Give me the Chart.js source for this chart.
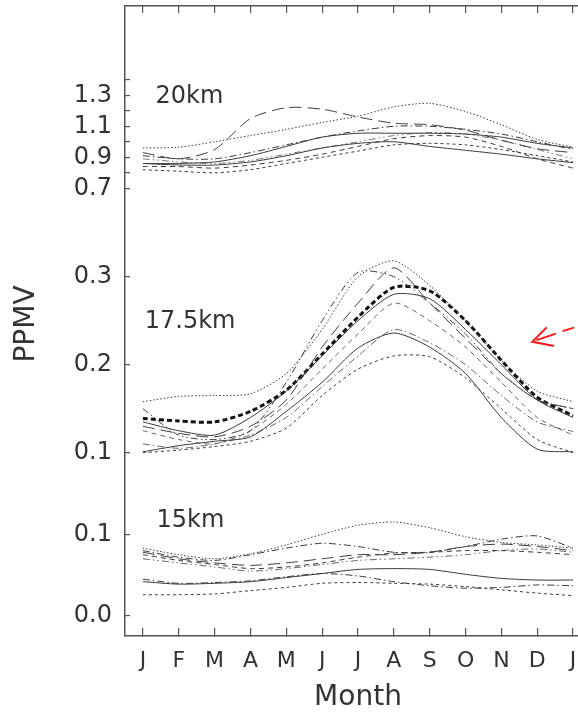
<!DOCTYPE html>
<html>
<head>
<meta charset="utf-8">
<script src="https://cdn.jsdelivr.net/npm/chart.js@4"></script>
<style>
  html, body { margin: 0; padding: 0; background: #fff; overflow: hidden; }
  #wrap { width: 578px; height: 715px; overflow: hidden; }
</style>
</head>
<body>
<div id="wrap"><canvas id="ppmv-chart" width="591" height="715"></canvas></div>
<script>
const MONTHS = ['J', 'F', 'M', 'A', 'M', 'J', 'J', 'A', 'S', 'O', 'N', 'D', 'J'];
const MONTH_NO = [1, 2, 3, 4, 5, 6, 7, 8, 9, 10, 11, 12, 13];

// 20 km
const km20Dotted   = [0.96, 0.965, 1.0, 1.04, 1.08, 1.125, 1.165, 1.225, 1.248, 1.195, 1.11, 1.015, 0.965];
const km20Long     = [0.93, 0.89, 0.95, 1.15, 1.22, 1.21, 1.16, 1.12, 1.11, 1.075, 1.01, 0.955, 0.93];
const km20DashDot  = [0.91, 0.89, 0.89, 0.93, 0.98, 1.03, 1.07, 1.10, 1.10, 1.08, 1.05, 1.0, 0.95];
const km20SolidA   = [0.86, 0.86, 0.87, 0.91, 0.97, 1.03, 1.055, 1.055, 1.055, 1.05, 1.03, 0.99, 0.96];
const km20SolidB   = [0.86, 0.85, 0.85, 0.87, 0.91, 0.96, 0.99, 1.0, 0.97, 0.945, 0.92, 0.89, 0.865];
const km20Short    = [0.82, 0.81, 0.80, 0.82, 0.86, 0.90, 0.94, 0.98, 0.99, 0.98, 0.95, 0.91, 0.87];
const km20Dashed   = [0.84, 0.84, 0.83, 0.85, 0.88, 0.92, 0.97, 1.02, 1.04, 1.03, 0.97, 0.89, 0.83];
const km20DashDot3 = [0.89, 0.87, 0.86, 0.88, 0.92, 0.96, 1.0, 1.04, 1.06, 1.05, 1.01, 0.95, 0.89];

// 17.5 km
const km175Mean     = [0.139, 0.136, 0.135, 0.147, 0.171, 0.212, 0.254, 0.288, 0.284, 0.25, 0.205, 0.163, 0.142];
const km175Dotted   = [0.158, 0.164, 0.165, 0.167, 0.19, 0.24, 0.30, 0.318, 0.29, 0.25, 0.205, 0.17, 0.158];
const km175DashDot3 = [0.15, 0.12, 0.115, 0.125, 0.18, 0.25, 0.305, 0.30, 0.27, 0.235, 0.19, 0.16, 0.15];
const km175Long     = [0.13, 0.122, 0.118, 0.13, 0.16, 0.22, 0.27, 0.31, 0.27, 0.23, 0.19, 0.16, 0.15];
const km175SolidA   = [0.135, 0.125, 0.12, 0.14, 0.17, 0.21, 0.25, 0.28, 0.275, 0.24, 0.2, 0.16, 0.14];
const km175Dashed   = [0.125, 0.115, 0.11, 0.125, 0.155, 0.195, 0.235, 0.27, 0.25, 0.22, 0.18, 0.14, 0.12];
const km175SolidB   = [0.101, 0.108, 0.113, 0.118, 0.147, 0.18, 0.219, 0.236, 0.22, 0.19, 0.14, 0.104, 0.101];
const km175Short    = [0.1, 0.103, 0.107, 0.113, 0.128, 0.165, 0.195, 0.21, 0.209, 0.185, 0.15, 0.115, 0.1];
const km175DashDot  = [0.11, 0.105, 0.11, 0.12, 0.14, 0.175, 0.21, 0.24, 0.225, 0.2, 0.165, 0.135, 0.124];

// 15 km
const km15Dotted   = [0.083, 0.075, 0.07, 0.076, 0.087, 0.1, 0.111, 0.115, 0.108, 0.097, 0.09, 0.087, 0.083];
const km15DashDot  = [0.08, 0.072, 0.068, 0.075, 0.083, 0.089, 0.085, 0.078, 0.078, 0.085, 0.094, 0.098, 0.083];
const km15Long     = [0.078, 0.07, 0.065, 0.062, 0.065, 0.07, 0.075, 0.075, 0.078, 0.085, 0.088, 0.085, 0.08];
const km15Dashed   = [0.075, 0.068, 0.063, 0.058, 0.06, 0.065, 0.072, 0.077, 0.078, 0.08, 0.08, 0.078, 0.075];
const km15DashDot3 = [0.07, 0.065, 0.06, 0.055, 0.058, 0.063, 0.068, 0.07, 0.072, 0.075, 0.08, 0.082, 0.078];
const km15Solid    = [0.042, 0.039, 0.04, 0.042, 0.047, 0.052, 0.057, 0.058, 0.057, 0.051, 0.046, 0.044, 0.044];
const km15DashDotB = [0.045, 0.04, 0.041, 0.043, 0.048, 0.052, 0.049, 0.042, 0.037, 0.034, 0.035, 0.038, 0.037];
const km15Short    = [0.026, 0.026, 0.027, 0.031, 0.035, 0.04, 0.041, 0.04, 0.039, 0.036, 0.032, 0.028, 0.025];

// tick values and which of them carry a label
const ticks20 = [0.7, 0.8, 0.9, 1.0, 1.1, 1.2, 1.3, 1.4];
const labels20 = [0.7, 0.9, 1.1, 1.3];
const ticks175 = [0.1, 0.2, 0.3];
const ticks15 = [0.0, 0.1];

const PANEL_NAMES = ['20km', '17.5km', '15km'];

// line styles
const SOLID = [];
const DOTTED = [1.5, 2];
const DASHED = [5, 4];
const SHORT = [3, 3];
const LONG = [12, 6];
const DASHDOT = [7, 3, 1.5, 3];
const DASHDOT3 = [7, 3, 1.5, 3, 1.5, 3];

const INK = '#333';
const AXIS = '#555';

function series(values, axis, dash, width, color) {
    return {
        data: values.map((v, i) => ({ x: MONTH_NO[i], y: v })),
        yAxisID: axis,
        borderDash: dash,
        borderWidth: width || 1,
        borderColor: color || '#3a3a3a',
        pointRadius: 0,
        tension: 0.25,
        fill: false
    };
}

function yAxis(min, max, tickList, labelList, weight, stackWeight, title) {
    return {
        type: 'linear',
        position: 'left',
        stack: 'ppmv',
        stackWeight: stackWeight,
        weight: weight,
        min: min,
        max: max,
        afterBuildTicks: axis => { axis.ticks = tickList.map(v => ({ value: v })); },
        afterFit: axis => {
            axis.width = 125;
            axis.paddingTop = 0;
            axis.paddingBottom = 0;
        },
        ticks: {
            autoSkip: false,
            padding: 18,
            color: INK,
            font: { size: 24 },
            callback: value => labelList.includes(value) ? value.toFixed(1) : ''
        },
        grid: { drawOnChartArea: false, tickLength: -5, color: AXIS, lineWidth: 1.2 },
        border: { color: AXIS, width: 1.5 },
        title: title ? {
            display: true,
            text: title,
            color: INK,
            font: { size: 28 },
            padding: { top: 10, bottom: 0 }
        } : { display: false }
    };
}

function monthAxis(position, height, tickLength, showLabels) {
    return {
        type: 'linear',
        position: position,
        min: 0.5,
        max: 13.5,
        afterBuildTicks: axis => { axis.ticks = MONTH_NO.map(v => ({ value: v })); },
        afterFit: axis => {
            axis.height = height;
            axis.paddingLeft = 0;
            axis.paddingRight = 0;
        },
        ticks: {
            display: showLabels,
            autoSkip: false,
            maxRotation: 0,
            padding: 20,
            color: INK,
            font: { size: 22 },
            callback: (value, index) => MONTHS[index]
        },
        grid: { drawOnChartArea: false, tickLength: tickLength, color: AXIS, lineWidth: 1.2 },
        border: { color: AXIS, width: 1.5 },
        title: {
            display: showLabels,
            text: 'Month',
            color: INK,
            font: { size: 28 },
            padding: { top: 0, bottom: 0 }
        }
    };
}

// panel names and the red arrow
const annotations = {
    id: 'annotations',
    afterDatasetsDraw(chart) {
        const ctx = chart.ctx;
        const x = chart.scales.x;
        const spots = [
            { axis: 'y20', mx: 1.35, v: 1.289 },
            { axis: 'y175', mx: 1.05, v: 0.2485 },
            { axis: 'y15', mx: 1.38, v: 0.1163 }
        ];
        ctx.save();
        ctx.font = '24px "DejaVu Sans"';
        ctx.fillStyle = INK;
        ctx.textAlign = 'left';
        ctx.textBaseline = 'middle';
        spots.forEach((s, i) => {
            ctx.fillText(PANEL_NAMES[i], x.getPixelForValue(s.mx), chart.scales[s.axis].getPixelForValue(s.v));
        });

        const tx = x.getPixelForValue(11.86);
        const ty = chart.scales.y175.getPixelForValue(0.226);
        ctx.strokeStyle = '#ff1a1a';
        ctx.lineWidth = 2;
        ctx.lineCap = 'round';
        ctx.beginPath();
        ctx.moveTo(tx + 14, ty - 14);
        ctx.lineTo(tx, ty);
        ctx.lineTo(tx + 21, ty + 4);
        ctx.moveTo(tx + 5, ty - 2);
        ctx.lineTo(tx + 23, ty - 8);
        ctx.moveTo(tx + 31, ty - 11);
        ctx.lineTo(tx + 41, ty - 14);
        ctx.stroke();
        ctx.restore();
    }
};

Chart.defaults.font.family = '"DejaVu Sans", sans-serif';
Chart.defaults.color = INK;

new Chart(document.getElementById('ppmv-chart'), {
    type: 'line',
    data: {
        datasets: [
            series(km20Dotted, 'y20', DOTTED),
            series(km20Long, 'y20', LONG),
            series(km20DashDot, 'y20', DASHDOT),
            series(km20SolidA, 'y20', SOLID),
            series(km20SolidB, 'y20', SOLID),
            series(km20Short, 'y20', SHORT),
            series(km20Dashed, 'y20', DASHED),
            series(km20DashDot3, 'y20', DASHDOT3, 1, '#777'),

            series(km175Dotted, 'y175', DOTTED),
            series(km175DashDot3, 'y175', DASHDOT3),
            series(km175Long, 'y175', LONG),
            series(km175SolidA, 'y175', SOLID),
            series(km175Dashed, 'y175', DASHED, 1, '#666'),
            series(km175SolidB, 'y175', SOLID),
            series(km175Short, 'y175', SHORT),
            series(km175DashDot, 'y175', DASHDOT, 1, '#666'),
            series(km175Mean, 'y175', [5, 3], 3, '#111'),

            series(km15Dotted, 'y15', DOTTED),
            series(km15DashDot, 'y15', DASHDOT),
            series(km15Long, 'y15', LONG),
            series(km15Dashed, 'y15', DASHED),
            series(km15DashDot3, 'y15', DASHDOT3, 1, '#666'),
            series(km15Solid, 'y15', SOLID),
            series(km15DashDotB, 'y15', DASHDOT),
            series(km15Short, 'y15', SHORT)
        ]
    },
    options: {
        responsive: false,
        animation: false,
        layout: { padding: 0 },
        plugins: { legend: { display: false }, tooltip: { enabled: false } },
        scales: {
            x: monthAxis('bottom', 79, -8, true),
            xTop: monthAxis('top', 6, -7, false),
            y20: yAxis(0.676, 1.876, ticks20, labels20, 3, 186),
            y175: yAxis(0.09625, 0.3963, ticks175, ticks175, 2, 264, 'PPMV'),
            y15: yAxis(-0.02448, 0.1958, ticks15, ticks15, 1, 180)
        }
    },
    plugins: [annotations]
});
</script>
</body>
</html>
